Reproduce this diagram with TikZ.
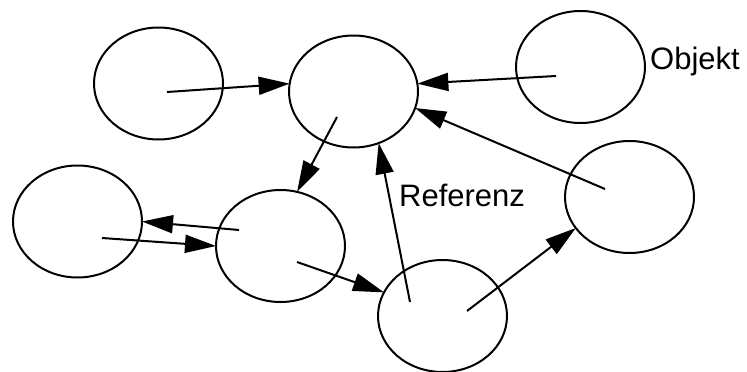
\documentclass[tikz,border=0pt]{standalone}
\usepackage{fontspec}
\setmainfont{Liberation Sans}
\usetikzlibrary{shapes.geometric,arrows.meta}
\tikzset{
  obj/.style={draw, ellipse, line width=2pt, minimum width=129pt, minimum height=112pt, inner sep=0pt, outer sep=0pt},
  ref/.style={line width=2pt, -{Triangle[length=31pt,width=18pt]}},
  lbl/.style={anchor=base west, inner sep=0pt, font=\fontsize{31pt}{36pt}\selectfont}
}
\begin{document}
\begin{tikzpicture}[x=1pt,y=-1pt]
\useasboundingbox (0,0) rectangle (747,372);
\node[obj] (A) at (158.5,83.5) {};
\node[obj] (B) at (353.5,91.5) {};
\node[obj] (C) at (580.5,67) {};
\node[obj] (D) at (77.5,221.5) {};
\node[obj] (E) at (280.5,246) {};
\node[obj] (F) at (442.5,316) {};
\node[obj] (G) at (629.5,197) {};
\coordinate (sA) at (167,92);
\coordinate (sC) at (556,76);
\coordinate (sG) at (605,189);
\coordinate (sB) at (337,117);
\coordinate (sE1) at (239,230);
\coordinate (sD) at (102,238);
\coordinate (sE2) at (297,262);
\coordinate (sF1) at (410,302);
\coordinate (sF2) at (467,311);
\draw[ref] (sA) -- (B.173.6);
\draw[ref] (sC) -- (B.7.4);
\draw[ref] (sG) -- (B.-15.7);
\draw[ref] (sB) -- (E.73.5);
\draw[ref] (sE1) -- (D.0.4);
\draw[ref] (sD) -- (E.180);
\draw[ref] (sE2) -- (F.158.5);
\draw[ref] (sF1) -- (B.-64.6);
\draw[ref] (sF2) -- (G.210.6);
\node[lbl] (lo) at (650,69) {Objekt};
\node[lbl] (lr) at (399,206) {Referenz};
\end{tikzpicture}
\end{document}
